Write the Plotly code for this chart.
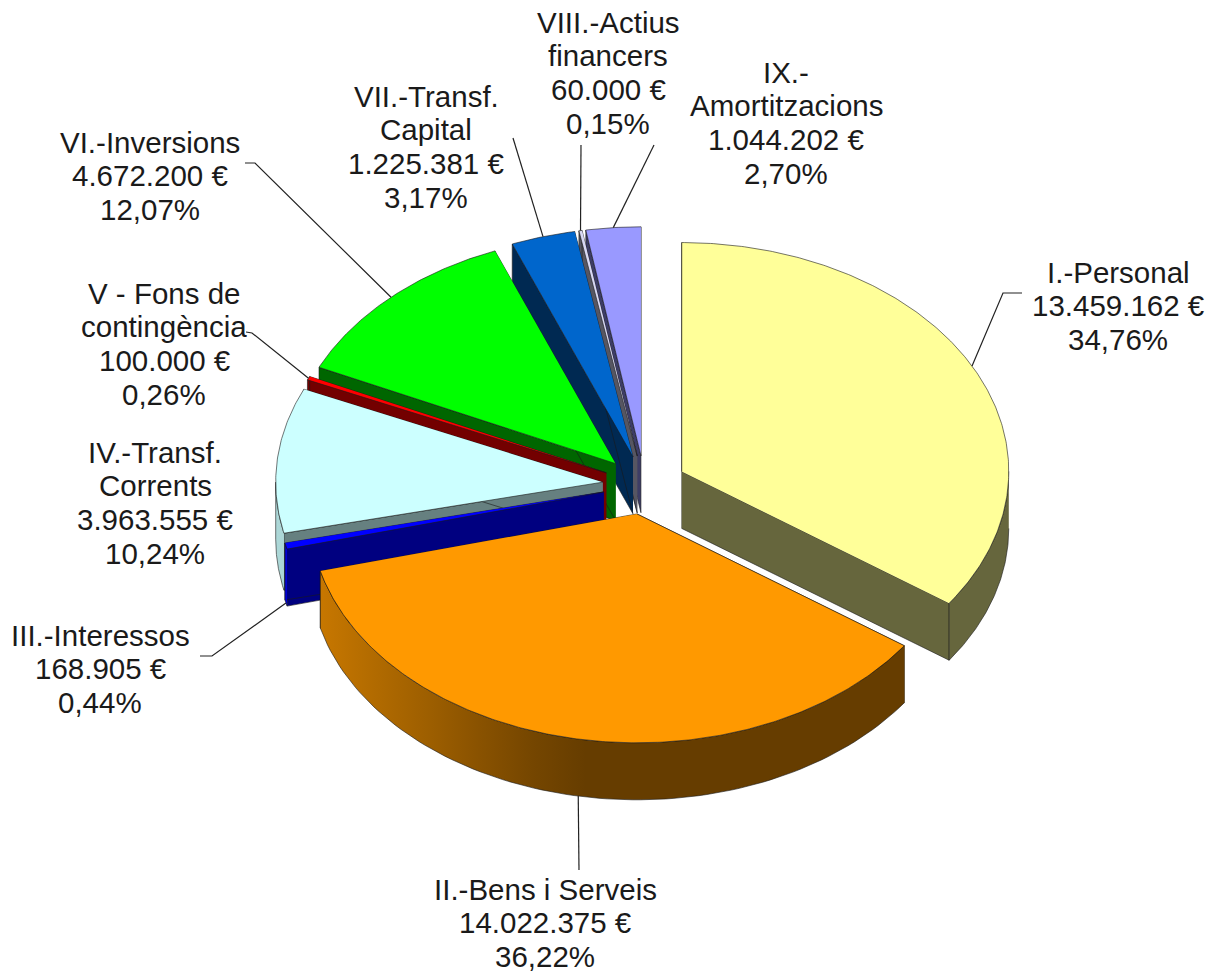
import numpy as np
import plotly.graph_objects as go

# ---- data ----
names = [["I.-Personal"], ["II.-Bens i Serveis"], ["III.-Interessos"],
         ["IV.-Transf.", "Corrents"], ["V - Fons de", "contingència"],
         ["VI.-Inversions"], ["VII.-Transf.", "Capital"],
         ["VIII.-Actius", "financers"], ["IX.-", "Amortitzacions"]]
amounts = [13459162, 14022375, 168905, 3963555, 100000, 4672200, 1225381, 60000, 1044202]

# ---- style and layout ----
top_colors = ["#FFFF99", "#FF9900", "#0000FF", "#CCFFFF", "#FF0000",
              "#00FF00", "#0066CC", "#D8D8F4", "#9999FF"]
face_shade = [0.4, 0.4, 0.5, 0.5, 0.45, 0.4, 0.4, 0.4, 0.4]
draw_order = [8, 7, 6, 5, 4, 3, 2, 0, 1]
CX, CY, RX, TILT, DEPTH, EXPLODE = 644.5, 485.0, 327.0, 0.70, 57.0, 42.0
RY = RX * TILT
FONT = 29.5
LINE_H = 33.8
label_x = [1118, 545, 100, 155, 164, 150, 426, 608, 786]
label_y = [272, 889, 635, 452, 293, 142, 96, 22, 72]
# leader routes from the slice's rim to the label
leader_tail = [[(1003, 293), (1022, 293)], [(579, 870)], [(212, 656), (200, 656)], [],
               [(252, 333), (246, 332)], [(255, 163), (245, 163)], [(513, 138)], [(581, 145)], [(654, 145)]]

total = sum(amounts)
edges = np.concatenate([[0], np.cumsum(amounts) / total * 360.0])


def shade(hexcol, f):
    r, g, b = [int(hexcol[i:i + 2], 16) for i in (1, 3, 5)]
    return f"rgb({r * f:.0f},{g * f:.0f},{b * f:.0f})"


def rim_factor(x):
    return float(np.clip(0.40 + 0.45 * (570 - x) / (570 - 275), 0.40, 0.85))


def apex(i):
    m = np.radians((edges[i] + edges[i + 1]) / 2)
    return CX + EXPLODE * np.sin(m), CY - EXPLODE * np.cos(m) * TILT


def rim(i, deg):
    a = np.radians(deg)
    ax, ay = apex(i)
    return ax + RX * np.sin(a), ay - RY * np.cos(a)


fig = go.Figure()
EDGE = dict(color="rgba(25,25,25,0.75)", width=0.8)


def poly(xs, ys, color=None, gradient=None, line=EDGE):
    kw = dict(fillgradient=gradient) if gradient else dict(fillcolor=color)
    fig.add_trace(go.Scatter(x=list(xs), y=list(ys), mode="lines", fill="toself", line=line,
                             hoverinfo="skip", showlegend=False, **kw))


for i in draw_order:
    a0, a1 = edges[i], edges[i + 1]
    ax, ay = apex(i)
    col = top_colors[i]
    # flat cut faces
    for deg in (a0, a1):
        rx_, ry_ = rim(i, deg)
        poly([ax, rx_, rx_, ax], [ay, ry_, ry_ + DEPTH, ay + DEPTH],
             color=shade(col, face_shade[i]))
    # curved outer wall, front half only
    v0, v1 = max(a0, 90.0), min(a1, 270.0)
    if v1 > v0:
        arc = np.linspace(v0, v1, 90)
        px, py = rim(i, arc)
        xs = np.concatenate([px, px[::-1]])
        ys = np.concatenate([py, py[::-1] + DEPTH])
        lo, hi = xs.min(), xs.max()
        stops = [[t, shade(col, rim_factor(lo + t * (hi - lo)))] for t in np.linspace(0, 1, 12)]
        poly(xs, ys, gradient=dict(type="horizontal", colorscale=stops))
    # top
    arc = np.linspace(a0, a1, max(int(a1 - a0) * 2, 4))
    px, py = rim(i, arc)
    poly(np.concatenate([[ax], px]), np.concatenate([[ay], py]), color=col)

# leaders
for i, tail in enumerate(leader_tail):
    if not tail:
        continue
    m = (edges[i] + edges[i + 1]) / 2
    sx, sy = rim(i, m)
    if 90 < m < 270:
        sy += DEPTH
    fig.add_trace(go.Scatter(x=[sx] + [p[0] for p in tail], y=[sy] + [p[1] for p in tail],
                             mode="lines", line=dict(color="#222222", width=1.2),
                             hoverinfo="skip", showlegend=False))

# labels
annotations = []
for i, nm in enumerate(names):
    pct = f"{amounts[i] / total * 100:.2f}".replace(".", ",") + "%"
    val = f"{amounts[i]:,}".replace(",", ".") + " €"
    for k, txt in enumerate(nm + [val, pct]):
        annotations.append(dict(x=label_x[i], y=label_y[i] + k * LINE_H, text=txt, showarrow=False,
                                xref="x", yref="y", xanchor="center", yanchor="middle",
                                font=dict(family="Liberation Sans", size=FONT, color="#1a1a1a")))

fig.update_layout(width=1221, height=973, margin=dict(l=0, r=0, t=0, b=0),
                  paper_bgcolor="white", plot_bgcolor="white", showlegend=False,
                  xaxis=dict(range=[0, 1221], visible=False, fixedrange=True),
                  yaxis=dict(range=[973, 0], visible=False, fixedrange=True),
                  annotations=annotations)
fig.write_html("out.html", config=dict(displayModeBar=False),
               post_script="document.body.style.margin='0';document.body.style.overflow='hidden';")
